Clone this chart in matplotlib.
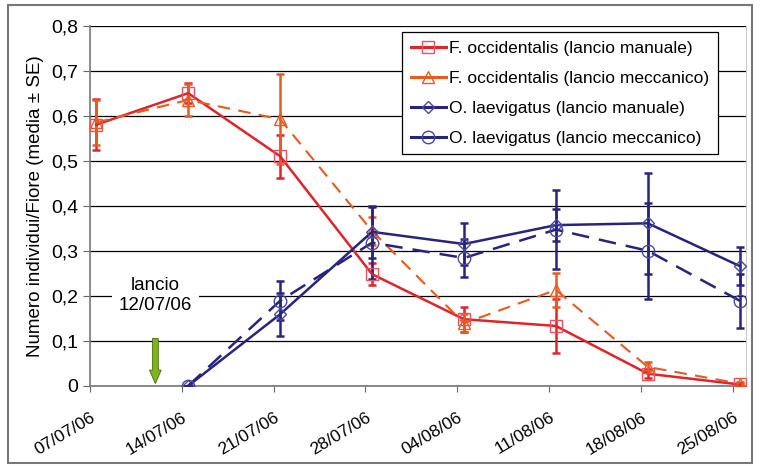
import matplotlib.pyplot as plt
import matplotlib.dates as mdates
from matplotlib.patches import Rectangle, FancyArrow
from matplotlib.lines import Line2D
import pandas as pd

plt.rcParams['font.family'] = ['Liberation Sans', 'DejaVu Sans']

# dati
dates = ['07/07/06', '14/07/06', '21/07/06', '28/07/06', '04/08/06', '11/08/06', '18/08/06', '25/08/06']

fo_man = [0.58, 0.65, 0.51, 0.248, 0.148, 0.133, 0.027, 0.003]
fo_man_se = [0.056, 0.022, 0.048, 0.025, 0.028, 0.06, 0.01, 0.004]
fo_mec = [0.585, 0.635, 0.592, 0.344, 0.139, 0.213, 0.042, 0.005]
fo_mec_se = [0.05, 0.035, 0.1, 0.032, 0.02, 0.038, 0.01, 0.004]

ol_dates = dates[1:]
ol_man = [0.0, 0.159, 0.342, 0.315, 0.357, 0.361, 0.266]
ol_man_se = [0.0, 0.048, 0.058, 0.047, 0.035, 0.112, 0.042]
ol_mec = [0.0, 0.189, 0.318, 0.284, 0.347, 0.30, 0.189]
ol_mec_se = [0.0, 0.043, 0.08, 0.042, 0.087, 0.107, 0.06]

labels = ['F. occidentalis (lancio manuale)', 'F. occidentalis (lancio meccanico)',
          'O. laevigatus (lancio manuale)', 'O. laevigatus (lancio meccanico)']

red = '#e0242a'
orange = '#e85a1e'
navy = '#27247f'

d = pd.to_datetime(dates, format='%d/%m/%y')
x = d + pd.Timedelta(hours=12)
x_ol = x[1:]

fig = plt.figure(figsize=(7.6, 4.66), dpi=100)
ax = fig.add_axes([0.118, 0.172, 0.864, 0.773])

styles = [
    dict(color=red, lw=1.8, ls='-', marker='s', ms=8, mfc='none', mec='#ee5060'),
    dict(color=orange, lw=1.5, ls=(0, (6, 4)), marker='^', ms=8, mfc='none', mec=orange),
    dict(color=navy, lw=1.8, ls='-', marker='D', ms=6, mfc='none', mec='#4a48a0'),
    dict(color=navy, lw=1.8, ls=(0, (7, 4)), marker='o', ms=9, mfc='none', mec='#4a48a0'),
]
series = [(x, fo_man, fo_man_se), (x, fo_mec, fo_mec_se),
          (x_ol, ol_man, ol_man_se), (x_ol, ol_mec, ol_mec_se)]

for (xs, ys, se), st in zip(series, styles):
    ax.errorbar(xs, ys, yerr=se, capsize=3, capthick=1.8, elinewidth=1.8,
                ecolor=st['color'], zorder=4, **st)

ax.set_ylim(0, 0.8)
ax.set_yticks([0, 0.1, 0.2, 0.3, 0.4, 0.5, 0.6, 0.7, 0.8])
ax.set_yticklabels(['0', '0,1', '0,2', '0,3', '0,4', '0,5', '0,6', '0,7', '0,8'], fontsize=14)
ax.set_xlim(d[0], d[0] + pd.Timedelta(days=50))
ax.set_xticks(d)
ax.set_xticklabels(dates, rotation=31, ha='right', rotation_mode='anchor', fontsize=12.5)
ax.tick_params(axis='x', length=4, color='#666666', pad=13)
ax.tick_params(axis='y', length=5, color='#666666', pad=3)
ax.yaxis.grid(True, color='black', lw=0.9)
ax.set_axisbelow(True)
ax.spines['top'].set_visible(False)
ax.spines['right'].set_color('#cccccc')
ax.spines['left'].set_color('#777777')
ax.spines['bottom'].set_color('#777777')
ax.spines['left'].set_linewidth(1.2)
ax.spines['bottom'].set_linewidth(1.2)

ax.set_ylabel('Numero individui/Fiore (media ± SE)', fontsize=13.5, labelpad=5)

# annotazione lancio
x_lancio = mdates.date2num(pd.Timestamp('2006-07-12'))
ax.text(x_lancio, 0.2, 'lancio\n12/07/06', ha='center', va='center', fontsize=13.5,
        linespacing=1.2, bbox=dict(facecolor='white', edgecolor='none', pad=5), zorder=3)
ax.add_patch(FancyArrow(x_lancio, 0.105, 0, -0.1, width=0.45, head_width=0.9,
                        head_length=0.03, length_includes_head=True,
                        facecolor='#7cb518', edgecolor='#4a6a10', lw=0.6, zorder=3))

# in legenda le linee sono tutte continue
handles = [Line2D([], [], **{**st, 'ls': '-', 'lw': 2.2}) for st in styles]
leg = ax.legend(handles, labels, loc='upper right', bbox_to_anchor=(0.957, 0.982),
                borderaxespad=0, fontsize=12.5,
                frameon=True, fancybox=False, edgecolor='black', framealpha=1,
                borderpad=0.5, labelspacing=0.85, handlelength=2.0, handletextpad=0.2)
leg.get_frame().set_linewidth(0.9)

fig.patches.append(Rectangle((0.011, 0.006), 0.978, 0.983, transform=fig.transFigure,
                             fill=False, edgecolor='#777777', lw=1.5))

fig.savefig('out.png', dpi=100)
